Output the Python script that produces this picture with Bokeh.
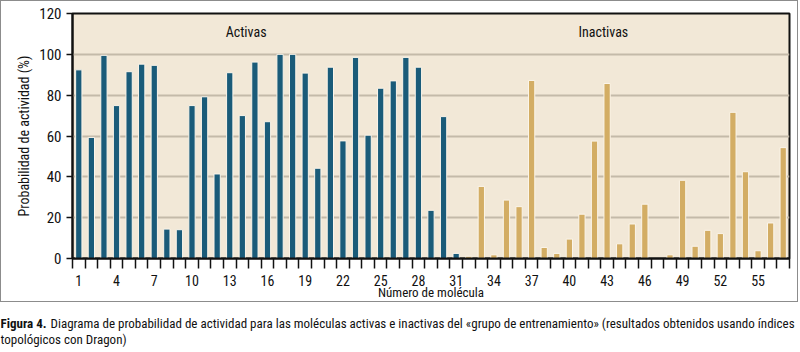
from bokeh.plotting import figure
from bokeh.layouts import column
from bokeh.models import FixedTicker, ColumnDataSource
from bokeh.core.properties import value
from bokeh.embed import file_html
from bokeh.resources import INLINE

# --- data -------------------------------------------------------------
activas = [92.4, 59.3, 99.5, 74.9, 91.5, 95.2, 94.6, 14.4, 14.1, 74.9,
           79.2, 41.4, 91.0, 70.0, 96.2, 67.0, 100.0, 100.0, 90.8, 44.2,
           93.7, 57.6, 98.5, 60.4, 83.4, 87.0, 98.5, 93.7, 23.6, 69.5, 2.5]
inactivas = [1.1, 35.3, 1.8, 28.6, 25.4, 87.2, 5.4, 2.5, 9.5, 21.7,
             57.5, 85.7, 7.2, 16.9, 26.6, 0.0, 1.8, 38.3, 6.0, 13.8,
             12.2, 71.6, 42.5, 3.8, 17.4, 54.3]
group_labels = ["Activas", "Inactivas"]
y_ticks = [0, 20, 40, 60, 80, 100, 120]
x_label_ticks = list(range(1, 57, 3))
y_axis_title = "Probabilidad de actividad (%)"
x_axis_title = "Número de molécula"
caption_bold = "Figura 4."
caption_line1 = ("Diagrama de probabilidad de actividad para las moléculas activas e inactivas "
                 "del «grupo de entrenamiento» (resultados obtenidos usando índices")
caption_line2 = "topológicos con Dragon)"

# --- styling ----------------------------------------------------------
F1 = "Roboto Condensed"
BLUE = "#1a5b79"
GOLD = "#d3ad64"
BG = "#f2e8d7"
GRID = "#c4baa9"
INK = "#111111"

n_act = len(activas)
molecules = list(range(1, n_act + len(inactivas) + 1))
values = activas + inactivas
colors = [BLUE] * n_act + [GOLD] * len(inactivas)
src = ColumnDataSource(dict(x=molecules, top=values, color=colors))

p = figure(width=798, height=302, x_range=(0.5, len(molecules) + 0.5), y_range=(0, 120),
           output_backend="svg", toolbar_location=None,
           min_border_left=71, min_border_right=10, min_border_top=12, min_border_bottom=45,
           styles={"border": "1px solid #8c8c8c"})
p.frame_align = False
p.background_fill_color = BG
p.border_fill_color = "white"
p.outline_line_color = INK
p.outline_line_width = 2

p.vbar(x="x", top="top", width=0.5, source=src, fill_color="color",
       line_color="#fbf5ea", line_width=1)

p.text(x=[14.3, 42.7], y=[111, 111], text=group_labels, text_align="center",
       text_baseline="middle", text_font=value(F1), text_font_size="14px", text_color=INK)

p.xgrid.visible = False
p.ygrid.grid_line_color = GRID
p.ygrid.grid_line_width = 2
p.yaxis.ticker = FixedTicker(ticks=y_ticks)
p.xaxis.ticker = FixedTicker(ticks=x_label_ticks,
                             minor_ticks=[m - 0.5 for m in molecules] + [len(molecules) + 0.5])
for ax in (p.xaxis[0], p.yaxis[0]):
    ax.axis_line_color = INK
    ax.axis_line_width = 2
    ax.major_label_text_font = F1
    ax.major_label_text_font_size = "15px"
    ax.major_label_text_color = INK
    ax.axis_label_text_font = F1
    ax.axis_label_text_font_size = "14px"
    ax.axis_label_text_font_style = "normal"
    ax.axis_label_text_color = INK
p.xaxis.major_label_text_font_size = "14px"
p.xaxis.axis_label_text_font_size = "13px"
p.yaxis.major_tick_out = 6
p.yaxis.major_tick_in = 0
p.yaxis.minor_tick_out = 0
p.yaxis.major_tick_line_color = INK
p.yaxis.major_tick_line_width = 1.5
p.yaxis.axis_label = y_axis_title
p.yaxis.axis_label_standoff = 4
p.xaxis.major_tick_out = 0
p.xaxis.major_tick_in = 0
p.xaxis.minor_tick_out = 10
p.xaxis.minor_tick_in = 0
p.xaxis.minor_tick_line_color = INK
p.xaxis.minor_tick_line_width = 1.5
p.xaxis.major_label_standoff = 6
p.xaxis.axis_label = x_axis_title
p.xaxis.axis_label_standoff = -4

# caption figure: pixel-like coordinates
c = figure(width=800, height=48, x_range=(0, 800), y_range=(48, 0),
           output_backend="svg", toolbar_location=None,
           min_border=0, min_border_left=0, min_border_right=0,
           min_border_top=0, min_border_bottom=0)
c.frame_align = False
c.axis.visible = False
c.grid.visible = False
c.outline_line_color = None
c.background_fill_color = "white"
c.text(x=[0], y=[21], text=[caption_bold], text_font=value(F1), text_font_size="13px",
       text_font_style="bold", text_color=INK, text_baseline="alphabetic")
c.text(x=[50], y=[21], text=[caption_line1], text_font=value(F1), text_font_size="13px",
       text_color=INK, text_baseline="alphabetic")
c.text(x=[0], y=[37], text=[caption_line2], text_font=value(F1), text_font_size="13px",
       text_color=INK, text_baseline="alphabetic")

layout = column(p, c, spacing=0)
open("out.html", "w").write(file_html(layout, INLINE))
